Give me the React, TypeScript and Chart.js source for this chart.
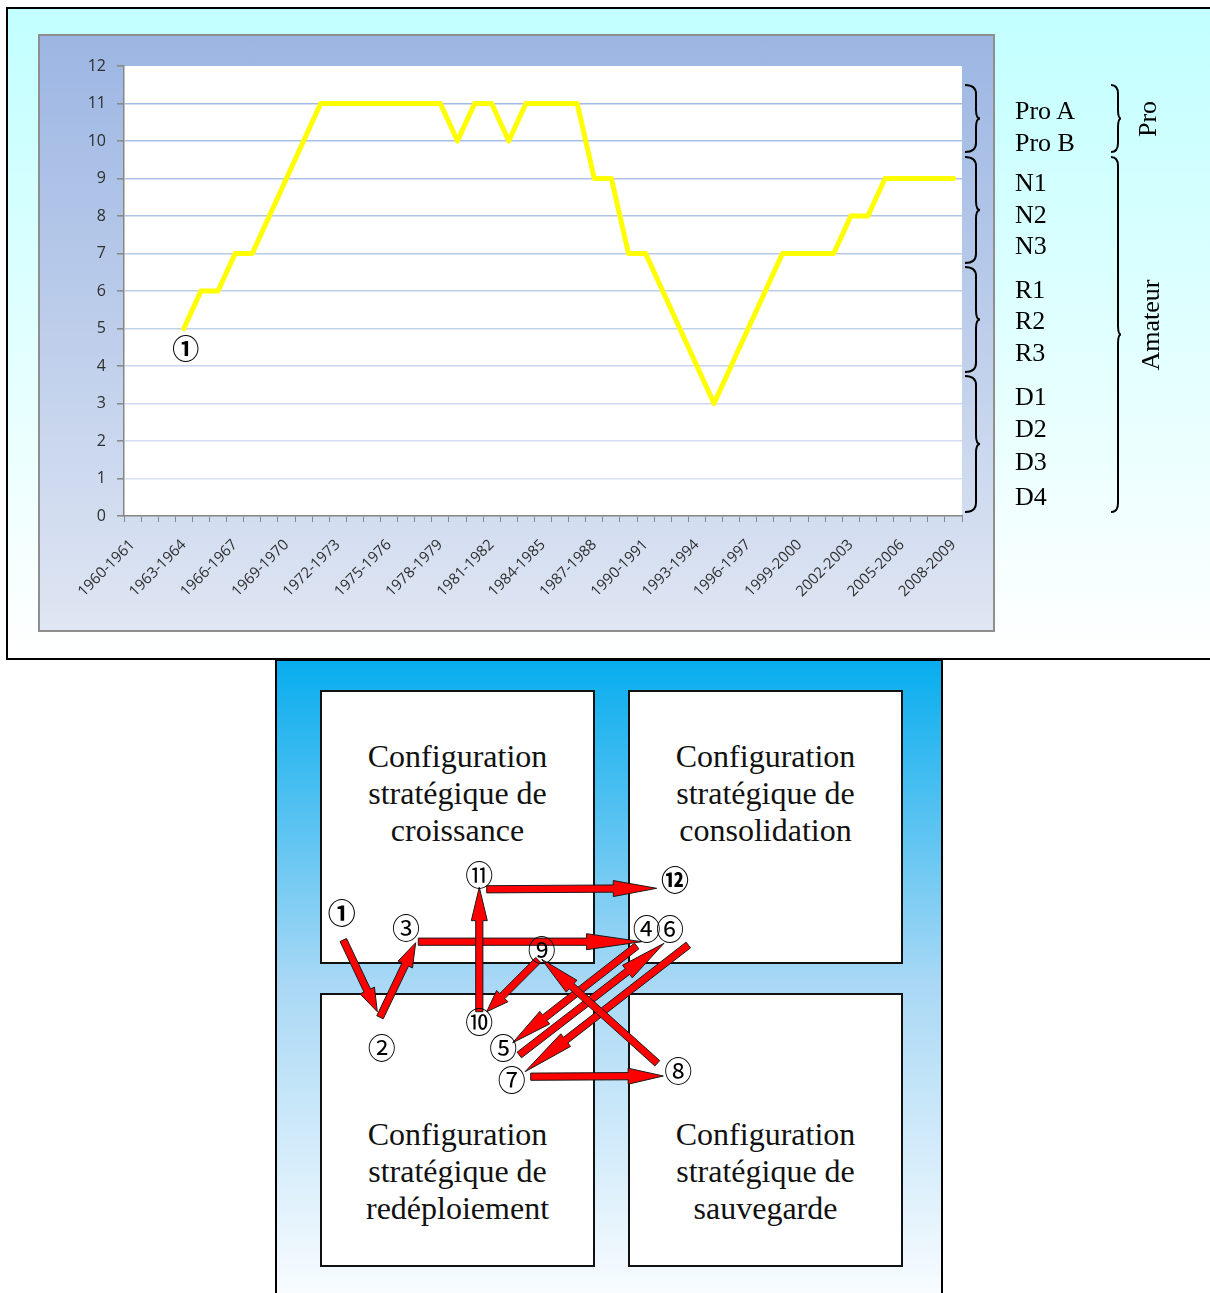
import React, { useEffect, useRef } from 'react';
import { Chart, registerables } from 'chart.js';

Chart.register(...registerables);

// ---------- data: top chart ----------
const seasons = [
  '1960-1961', '1961-1962', '1962-1963', '1963-1964', '1964-1965', '1965-1966', '1966-1967', '1967-1968', '1968-1969', '1969-1970',
  '1970-1971', '1971-1972', '1972-1973', '1973-1974', '1974-1975', '1975-1976', '1976-1977', '1977-1978', '1978-1979', '1979-1980',
  '1980-1981', '1981-1982', '1982-1983', '1983-1984', '1984-1985', '1985-1986', '1986-1987', '1987-1988', '1988-1989', '1989-1990',
  '1990-1991', '1991-1992', '1992-1993', '1993-1994', '1994-1995', '1995-1996', '1996-1997', '1997-1998', '1998-1999', '1999-2000',
  '2000-2001', '2001-2002', '2002-2003', '2003-2004', '2004-2005', '2005-2006', '2006-2007', '2007-2008', '2008-2009',
];

const levels: (number | null)[] = [
  null, null, null, 5, 6, 6, 7, 7, 8, 9, 10, 11,
  11, 11, 11, 11, 11, 11, 11,
  10, 11, 11, 10, 11, 11, 11, 11,
  9, 9, 7, 7, 6, 5, 4, 3,
  4, 5, 6, 7, 7, 7, 7, 8, 8,
  9, 9, 9, 9, 9,
];

const yTicks = [0, 1, 2, 3, 4, 5, 6, 7, 8, 9, 10, 11, 12];
const labelEvery = 3;
const startMarkerIndex = 3;
const startMarkerText = '①';

const divisionLabels = ['Pro A', 'Pro B', 'N1', 'N2', 'N3', 'R1', 'R2', 'R3', 'D1', 'D2', 'D3', 'D4'];
const groupLabels = ['Pro', 'Amateur'];

// ---------- data: diagram ----------
const boxTitles = ['croissance', 'consolidation', 'redéploiement', 'sauvegarde'];
const stateLabels = ['①', '②', '③', '④', '⑤', '⑥', '⑦', '⑧', '⑨', '⑩', '⑪', '⑫'];
// state label centres, in diagram units (box-relative)
const stateX = [66.7, 106.7, 131, 371.7, 228.3, 395, 236.7, 403.3, 266.7, 204.3, 204.3, 400];
const stateY = [254.3, 389.3, 269.3, 270.3, 389.3, 270.3, 421, 412.7, 291, 363.7, 216, 221];
// transitions i -> i+1 : tail and tip
const arrowTailX = [68.3, 105, 143.3, 361.7, 244.3, 413.3, 255.7, 382.3, 263.3, 204.3, 211.7];
const arrowTailY = [281, 358.3, 282.7, 287, 396, 286, 417.7, 404.3, 301, 352.7, 230.3];
const arrowTipX = [102.3, 140.7, 366.7, 237.7, 389, 250, 388.3, 266.7, 211.7, 204.3, 381.7];
const arrowTipY = [352.7, 283.7, 282.7, 383.7, 284.3, 412.7, 417, 300.3, 352.7, 228.3, 229.3];

// ---------- layout ----------
const SERIF = '"Liberation Serif", "Times New Roman", serif';
const SANS = '"Open Sans", "Noto Sans", sans-serif';
const CIRCLED = '"Noto Sans CJK JP", "DejaVu Sans", sans-serif';

const CHART_BOX = { left: 38, top: 34, width: 957, height: 598 };
const DIAG_BOX = { left: 275, top: 659, width: 668, height: 634 };
const divisionBaselines = [119, 151, 191, 223, 254, 298, 329, 361, 405, 437, 470, 505];
const braceCol1: [number, number][] = [[85, 152], [157, 263], [267, 372], [376, 512]];
const braceCol2: [number, number][] = [[85, 152], [157, 512]];

function mix(a: number[], b: number[], t: number) {
  const c = a.map((v, i) => Math.round(v + (b[i] - v) * t));
  return `rgb(${c[0]},${c[1]},${c[2]})`;
}

function bracePath(xEnd: number, xMid: number, xTip: number, y1: number, y2: number) {
  const ym = (y1 + y2) / 2;
  const r = 9;
  return `M ${xEnd} ${y1} Q ${xMid} ${y1} ${xMid} ${y1 + r} L ${xMid} ${ym - r} Q ${xMid} ${ym} ${xTip} ${ym} ` +
    `Q ${xMid} ${ym} ${xMid} ${ym + r} L ${xMid} ${y2 - r} Q ${xMid} ${y2} ${xEnd} ${y2}`;
}

function drawBlockArrow(ctx: CanvasRenderingContext2D, x1: number, y1: number, x2: number, y2: number) {
  const dx = x2 - x1, dy = y2 - y1;
  const len = Math.hypot(dx, dy);
  const ux = dx / len, uy = dy / len;
  const nx = -uy, ny = ux;
  const sw = 3.6, hw = 8, hl = 0.22 * len + 6;
  const bx = x2 - ux * hl, by = y2 - uy * hl;
  ctx.beginPath();
  ctx.moveTo(x1 + nx * sw, y1 + ny * sw);
  ctx.lineTo(bx + nx * sw, by + ny * sw);
  ctx.lineTo(bx + nx * hw, by + ny * hw);
  ctx.lineTo(x2, y2);
  ctx.lineTo(bx - nx * hw, by - ny * hw);
  ctx.lineTo(bx - nx * sw, by - ny * sw);
  ctx.lineTo(x1 - nx * sw, y1 - ny * sw);
  ctx.closePath();
  ctx.fillStyle = '#ff0000';
  ctx.fill();
  ctx.lineWidth = 1;
  ctx.strokeStyle = '#1a1a1a';
  ctx.stroke();
}

const GRID_TOP = [157, 183, 227];
const GRID_BOTTOM = [221, 229, 243];

export default function App() {
  const chartRef = useRef<HTMLCanvasElement | null>(null);
  const diagRef = useRef<HTMLCanvasElement | null>(null);

  useEffect(() => {
    const plotBg = {
      id: 'plotBg',
      beforeDraw(chart: any) {
        const { ctx, chartArea: a } = chart;
        ctx.save();
        ctx.fillStyle = '#ffffff';
        ctx.fillRect(a.left, a.top, a.right - a.left, a.bottom - a.top);
        ctx.restore();
      },
      afterDatasetsDraw(chart: any) {
        const { ctx, scales } = chart;
        const v = levels[startMarkerIndex] as number;
        const px = scales.x.getPixelForValue(startMarkerIndex);
        const py = scales.y.getPixelForValue(v);
        ctx.save();
        ctx.fillStyle = '#000';
        ctx.font = `bold 27px ${CIRCLED}`;
        ctx.textAlign = 'center';
        ctx.textBaseline = 'middle';
        ctx.fillText(startMarkerText, px + 2, py + 20);
        ctx.restore();
      },
    };

    const chart = new Chart(chartRef.current as HTMLCanvasElement, {
      type: 'line',
      data: {
        labels: seasons,
        datasets: [{
          data: levels,
          borderColor: '#ffff00',
          borderWidth: 5,
          pointRadius: 0,
          tension: 0,
          spanGaps: false,
          borderJoinStyle: 'round',
          borderCapStyle: 'round',
        }],
      },
      options: {
        responsive: false,
        animation: false,
        events: [],
        layout: { padding: { top: 32, right: 33, left: 0, bottom: 0 } },
        plugins: { legend: { display: false }, tooltip: { enabled: false } },
        scales: {
          x: {
            type: 'category',
            offset: true,
            afterFit: (s: any) => { s.height = 116; },
            grid: { offset: true, drawOnChartArea: false, tickLength: 6, tickColor: '#8a8a8a', tickWidth: 1 },
            border: { display: true, color: '#868686', width: 1.5 },
            ticks: {
              autoSkip: false,
              minRotation: 45,
              maxRotation: 45,
              padding: 14,
              color: '#2e2e2e',
              font: { family: SANS, size: 15 },
              callback: (_v: any, i: number) => (i % labelEvery === 0 ? seasons[i] : ''),
            },
          },
          y: {
            min: yTicks[0],
            max: yTicks[yTicks.length - 1],
            afterFit: (s: any) => { s.width = 86; },
            afterBuildTicks: (s: any) => { s.ticks = yTicks.map((v) => ({ value: v })); },
            grid: {
              tickLength: 7,
              tickColor: '#8a8a8a',
              lineWidth: 1.6,
              color: (c: any) => {
                const v = c.tick ? c.tick.value : 0;
                if (v === yTicks[0] || v === yTicks[yTicks.length - 1]) return 'rgba(0,0,0,0)';
                return mix(GRID_BOTTOM, GRID_TOP, v / 12);
              },
            },
            border: { display: true, color: '#868686', width: 1.5 },
            ticks: {
              padding: 11,
              color: '#2e2e2e',
              font: { family: SANS, size: 16 },
            },
          },
        },
      },
      plugins: [plotBg],
    } as any);

    const diagramPlugin = {
      id: 'diagram',
      afterDatasetsDraw(c: any) {
        const { ctx, scales } = c;
        const sx = scales.x, sy = scales.y;
        ctx.save();
        for (let i = 0; i < arrowTailX.length; i++) {
          drawBlockArrow(
            ctx,
            sx.getPixelForValue(arrowTailX[i]), sy.getPixelForValue(arrowTailY[i]),
            sx.getPixelForValue(arrowTipX[i]), sy.getPixelForValue(arrowTipY[i]),
          );
        }
        ctx.fillStyle = '#000';
        ctx.textAlign = 'center';
        ctx.textBaseline = 'middle';
        for (let i = 0; i < stateLabels.length; i++) {
          const bold = i === 0 || i === stateLabels.length - 1;
          ctx.font = `${bold ? 'bold ' : ''}28px ${CIRCLED}`;
          ctx.fillText(stateLabels[i], sx.getPixelForValue(stateX[i]), sy.getPixelForValue(stateY[i]));
        }
        ctx.restore();
      },
    };

    const diagram = new Chart(diagRef.current as HTMLCanvasElement, {
      type: 'scatter',
      data: {
        datasets: [{
          data: stateX.map((x, i) => ({ x, y: stateY[i] })),
          pointRadius: 0,
          showLine: false,
        }],
      },
      options: {
        responsive: false,
        animation: false,
        events: [],
        layout: { padding: 0 },
        plugins: { legend: { display: false }, tooltip: { enabled: false } },
        scales: {
          x: { type: 'linear', min: 0, max: DIAG_BOX.width, display: false },
          y: { type: 'linear', min: 0, max: DIAG_BOX.height, reverse: true, display: false },
        },
      },
      plugins: [diagramPlugin],
    } as any);

    return () => {
      chart.destroy();
      diagram.destroy();
    };
  }, []);

  const boxStyle = (left: number, top: number): React.CSSProperties => ({
    position: 'absolute', left, top, width: 275, height: 274, boxSizing: 'border-box',
    border: '2px solid #111', background: '#ffffff',
  });
  const textStyle = (top: number): React.CSSProperties => ({
    position: 'absolute', left: 0, right: 0, top, textAlign: 'center',
    fontFamily: SERIF, fontSize: 32, lineHeight: '37px', color: '#111',
  });
  const boxes = [
    { left: 320, top: 690, textTop: 46 },
    { left: 628, top: 690, textTop: 46 },
    { left: 320, top: 993, textTop: 121 },
    { left: 628, top: 993, textTop: 121 },
  ];

  return (
    <div style={{ position: 'absolute', left: 0, top: 0, width: 1210, height: 1293, overflow: 'hidden', background: '#ffffff' }}>
      {/* top panel */}
      <div style={{
        position: 'absolute', left: 6, top: 7, width: 1240, height: 653, boxSizing: 'border-box',
        border: '2px solid #000', background: 'linear-gradient(to bottom, #c2ffff 0%, #ffffff 100%)',
      }} />
      <div style={{
        position: 'absolute', left: CHART_BOX.left, top: CHART_BOX.top, width: CHART_BOX.width, height: CHART_BOX.height,
        boxSizing: 'border-box', border: '2px solid #8e8e8e',
        background: 'linear-gradient(to bottom, #9cb6e3 0%, #dfe6f3 100%)',
      }} />
      <canvas ref={chartRef} width={CHART_BOX.width} height={CHART_BOX.height}
        style={{ position: 'absolute', left: CHART_BOX.left, top: CHART_BOX.top, width: CHART_BOX.width, height: CHART_BOX.height }} />

      {/* diagram */}
      <div style={{
        position: 'absolute', left: DIAG_BOX.left, top: DIAG_BOX.top, width: DIAG_BOX.width, height: DIAG_BOX.height + 10,
        boxSizing: 'border-box', border: '2px solid #000',
        background: 'linear-gradient(to bottom, #08adee 0%, #a8d8f5 50%, #fafdff 100%)',
      }} />
      {boxes.map((b, i) => (
        <div key={i} style={boxStyle(b.left, b.top)}>
          <div style={textStyle(b.textTop)}>
            <div>Configuration</div>
            <div>stratégique de</div>
            <div>{boxTitles[i]}</div>
          </div>
        </div>
      ))}
      <canvas ref={diagRef} width={DIAG_BOX.width} height={DIAG_BOX.height}
        style={{ position: 'absolute', left: DIAG_BOX.left, top: DIAG_BOX.top, width: DIAG_BOX.width, height: DIAG_BOX.height }} />

      {/* division labels and braces */}
      <svg width={1210} height={1293} style={{ position: 'absolute', left: 0, top: 0, pointerEvents: 'none' }}>
        {braceCol1.map(([a, b], i) => (
          <path key={'b1' + i} d={bracePath(965, 976, 980, a, b)} fill="none" stroke="#000" strokeWidth={2} />
        ))}
        {braceCol2.map(([a, b], i) => (
          <path key={'b2' + i} d={bracePath(1111, 1118, 1121, a, b)} fill="none" stroke="#000" strokeWidth={2} />
        ))}
        {divisionLabels.map((t, i) => (
          <text key={t} x={1015} y={divisionBaselines[i]} fontFamily={SERIF} fontSize={26} fill="#000">{t}</text>
        ))}
        <text transform="translate(1156,119) rotate(-90)" textAnchor="middle" fontFamily={SERIF} fontSize={26} fill="#000">{groupLabels[0]}</text>
        <text transform="translate(1159,325) rotate(-90)" textAnchor="middle" fontFamily={SERIF} fontSize={26} fill="#000">{groupLabels[1]}</text>
      </svg>
    </div>
  );
}
